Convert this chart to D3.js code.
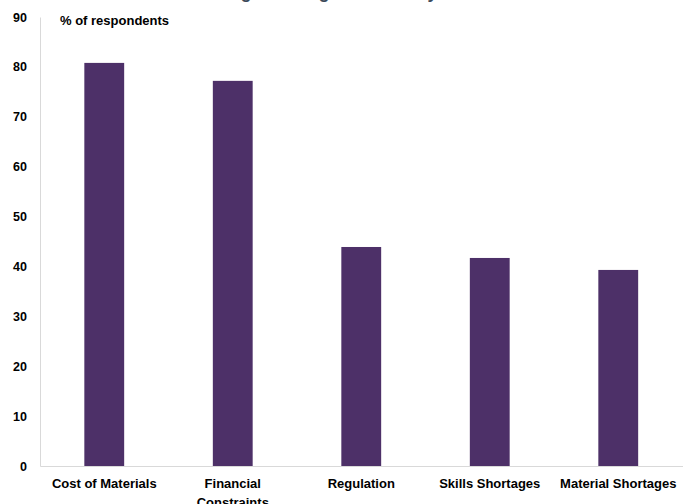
<!DOCTYPE html>
<html><head><meta charset="utf-8">
<script src="https://cdn.jsdelivr.net/npm/d3@7"></script>
<style>body{margin:0;background:#fff}svg{display:block}</style>
</head><body>
<svg id="c" width="691" height="504"></svg>
<script>
const categories = ["Cost of Materials", "Financial Constraints", "Regulation", "Skills Shortages", "Material Shortages"];
const values = [80.8, 77.2, 43.9, 41.7, 39.3];
const yTicks = [0, 10, 20, 30, 40, 50, 60, 70, 80, 90];
const titleText = "Main challenges facing the industry";
const unitLabel = "% of respondents";

const svg = d3.select("#c");
const font = "'Liberation Sans', Arial, sans-serif";
const x = d3.scaleBand().domain(categories).range([40, 682.5]).paddingInner(0.69).paddingOuter(0.345);
const y = d3.scaleLinear().domain([0, 90]).range([466, 17]);

svg.append("text").attr("x", 285).attr("y", -2.5).attr("text-anchor", "middle")
  .attr("font-family", font).attr("font-weight", "bold").attr("font-size", 18).attr("fill", "#3b4a5a").text(titleText);

const yAxis = svg.append("g").attr("transform", "translate(40,0)")
  .call(d3.axisLeft(y).tickValues(yTicks).tickSize(0).tickPadding(13));
yAxis.select(".domain").attr("stroke", "#d9d9d9");
yAxis.selectAll("text").attr("font-family", font).attr("font-weight", "bold").attr("font-size", 12.5).attr("fill", "#000");

svg.selectAll("rect.bar").data(values).join("rect").attr("class", "bar")
  .attr("x", (d, i) => x(categories[i])).attr("width", x.bandwidth())
  .attr("y", d => y(d)).attr("height", d => y(0) - y(d)).attr("fill", "#4d3068");

const xAxis = svg.append("g").attr("transform", "translate(0,466)")
  .call(d3.axisBottom(x).tickSize(0).tickPadding(13));
xAxis.select(".domain").attr("stroke", "#d9d9d9");
xAxis.selectAll("text").attr("font-family", font).attr("font-weight", "bold").attr("font-size", 13).attr("fill", "#000")
  .each(function(d) {
    if (d === "Financial Constraints") {
      const t = d3.select(this); t.text(null);
      t.append("tspan").attr("x", 0).attr("dy", "0.71em").text("Financial");
      t.append("tspan").attr("x", 0).attr("dy", "1.45em").text("Constraints");
      t.attr("dy", null);
    }
  });

svg.append("text").attr("x", 60).attr("y", 25).attr("font-family", font).attr("font-weight", "bold")
  .attr("font-size", 13).attr("fill", "#000").text(unitLabel);
</script>
</body></html>
